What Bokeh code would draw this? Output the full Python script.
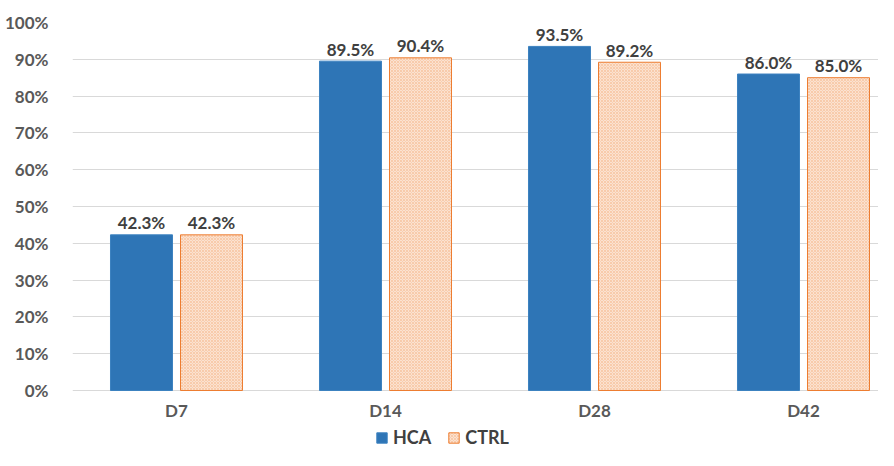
import numpy as np
from bokeh.plotting import figure
from bokeh.models import (ColumnDataSource, Range1d, FixedTicker, NumeralTickFormatter,
                          Legend, LegendItem)
from bokeh.core.properties import value
from bokeh.embed import file_html
from bokeh.resources import INLINE

categories = ["D7", "D14", "D28", "D42"]
hca = [42.3, 89.5, 93.5, 86.0]
ctrl = [42.3, 90.4, 89.2, 85.0]
y_ticks = [0, 10, 20, 30, 40, 50, 60, 70, 80, 90, 100]

FONT = "Lato"
idx = np.arange(len(categories))
off = 0.1675
bw = 0.2967

src_h = ColumnDataSource(dict(x=idx - off, top=np.array(hca) / 100.0,
                              lab=[f"{v:.1f}%" for v in hca]))
src_c = ColumnDataSource(dict(x=idx + off, top=np.array(ctrl) / 100.0,
                              lab=[f"{v:.1f}%" for v in ctrl]))
src_cat = ColumnDataSource(dict(x=idx, y=np.zeros(len(categories)), lab=categories))

p = figure(width=878, height=450, output_backend="svg", toolbar_location=None,
           x_range=Range1d(-0.4976, -0.4976 + 806 / 209.0),
           y_range=Range1d(1.0 - 426 / 368.0, 1.0),
           min_border_left=72, min_border_right=0, min_border_top=22, min_border_bottom=2)
p.outline_line_color = None
p.background_fill_color = "white"
p.border_fill_color = "white"

hr = p.vbar(x="x", top="top", width=bw, source=src_h, fill_color="#2e75b6",
            line_color="#3c82c0", line_width=1)
cr = p.vbar(x="x", top="top", width=bw, source=src_c, fill_color="#fbe2d0",
            line_color="#ed7d31", line_width=1, hatch_pattern="x",
            hatch_color="#f4b183", hatch_scale=3, hatch_weight=0.6, hatch_alpha=0.8)

for s in (src_h, src_c):
    p.text(x="x", y="top", text="lab", source=s, text_align="center",
           text_baseline="alphabetic", y_offset=-12, text_font=value(FONT),
           text_font_style="bold", text_font_size="17px", text_color="#404040")

# category labels under the baseline
p.text(x="x", y="y", text="lab", source=src_cat, text_align="center",
       text_baseline="middle", y_offset=20, text_font=value(FONT),
       text_font_style="bold", text_font_size="17px", text_color="#595959")

p.xgrid.visible = False
p.ygrid.grid_line_color = "#d9d9d9"
p.ygrid.grid_line_width = 1
p.ygrid.ticker = FixedTicker(ticks=[t / 100.0 for t in y_ticks])

p.yaxis.ticker = FixedTicker(ticks=[t / 100.0 for t in y_ticks])
p.yaxis.formatter = NumeralTickFormatter(format="0%")
p.xaxis.visible = False

ax = p.yaxis[0]
ax.axis_line_color = None
ax.major_tick_line_color = None
ax.minor_tick_line_color = None
ax.major_label_text_font = FONT
ax.major_label_text_font_style = "bold"
ax.major_label_text_font_size = "17px"
ax.major_label_text_color = "#595959"
ax.major_label_standoff = 18

legend = Legend(items=[LegendItem(label="HCA", renderers=[hr]),
                       LegendItem(label="CTRL", renderers=[cr])],
                orientation="horizontal", location=(303, 0),
                label_text_font=FONT, label_text_font_style="bold",
                label_text_font_size="18px", label_text_color="#404040",
                glyph_width=13, glyph_height=13, spacing=16, label_standoff=5,
                label_height=13, border_line_color=None, background_fill_alpha=0,
                padding=2, margin=0)
p.add_layout(legend, "center")

open("out.html", "w").write(file_html(p, INLINE))
